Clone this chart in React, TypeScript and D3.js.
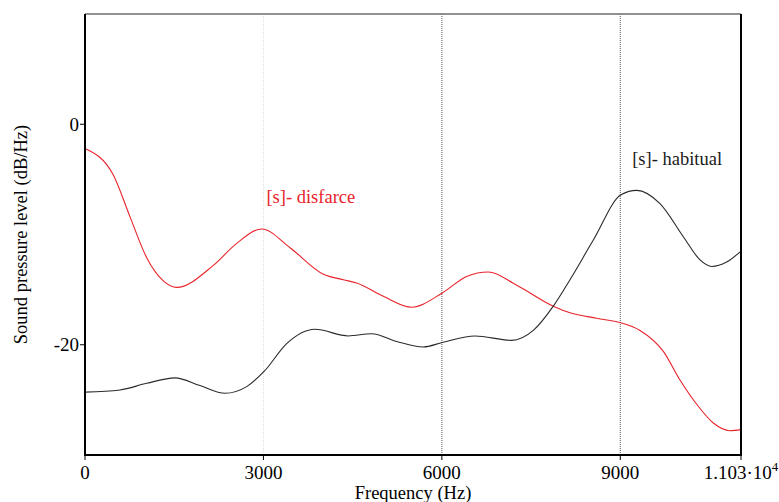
import React from 'react';
import * as d3 from 'd3';

// espectro [s] disfarce (vermelho)
const disfarceFreq = [0, 476, 757, 1037, 1317, 1541, 2158, 2550, 2971, 3447, 4008, 4343, 4568, 5016, 5493, 6008, 6418, 6782, 7259, 7874, 8155, 8603, 9007, 9332, 9724, 10004, 10285, 10565, 10845, 11030];
const disfarceDb = [-2.2, -4.6, -8.4, -12.1, -14.2, -14.8, -12.8, -10.8, -9.5, -11.2, -13.6, -14.1, -14.4, -15.6, -16.6, -15.3, -13.8, -13.4, -14.6, -16.5, -17.1, -17.6, -18.0, -18.7, -20.6, -23.2, -25.4, -27.1, -27.8, -27.7];

// espectro [s] habitual (preto)
const habitualFreq = [0, 588, 1037, 1513, 1934, 2354, 2718, 3015, 3391, 3867, 4428, 4820, 5240, 5689, 6008, 6557, 7174, 7538, 7874, 8155, 8547, 9012, 9276, 9668, 10060, 10341, 10537, 10789, 11030];
const habitualDb = [-24.3, -24.1, -23.5, -23.0, -23.7, -24.4, -23.8, -22.4, -19.9, -18.6, -19.2, -19.0, -19.7, -20.2, -19.8, -19.2, -19.6, -18.7, -16.5, -14.1, -10.5, -6.4, -6.0, -7.2, -10.2, -12.3, -12.9, -12.5, -11.5];

const xTicks = [0, 3000, 6000, 9000];
const yTicks = [0, -20];
const gridLines = [3000, 6000, 9000];

const W = 779;
const H = 502;
const margin = { top: 14, right: 38, bottom: 47, left: 85 };
const font = '"Liberation Serif", "Times New Roman", serif';

export default function App() {
  const x = d3.scaleLinear().domain([0, 11030]).range([margin.left, W - margin.right]);
  const y = d3.scaleLinear().domain([-30, 10]).range([H - margin.bottom, margin.top]);

  const line = d3.line<[number, number]>()
    .x(d => x(d[0]))
    .y(d => y(d[1]))
    .curve(d3.curveMonotoneX);

  const disfarce = line(disfarceFreq.map((f, i) => [f, disfarceDb[i]] as [number, number])) || '';
  const habitual = line(habitualFreq.map((f, i) => [f, habitualDb[i]] as [number, number])) || '';

  const x0 = x(0), x1 = x(11030), yTop = y(10), yBot = y(-30);

  return (
    <svg width={W} height={H} style={{ position: 'absolute', left: 0, top: 0, background: '#fff' }} fontFamily={font}>
      {/* linhas de grade */}
      {gridLines.map(g => (
        <line key={g} x1={x(g)} x2={x(g)} y1={yTop} y2={yBot}
          stroke={g === 3000 ? '#dcdcdc' : '#555'} strokeWidth={1} strokeDasharray="1,1" />
      ))}

      {/* curvas */}
      <path d={disfarce} fill="none" stroke="#e8232a" strokeWidth={1.1} />
      <path d={habitual} fill="none" stroke="#2a2a2a" strokeWidth={1.1} />

      {/* moldura */}
      <line x1={x0} x2={x1} y1={yTop} y2={yTop} stroke="#6e6e6e" strokeWidth={1.5} />
      <line x1={x1} x2={x1} y1={yTop} y2={yBot} stroke="#000" strokeWidth={2} />
      <line x1={x0} x2={x0} y1={yTop} y2={yBot + 1} stroke="#000" strokeWidth={2} />
      <line x1={x0 - 1} x2={x1 + 1} y1={yBot} y2={yBot} stroke="#000" strokeWidth={2} />

      {/* eixo x */}
      {[...xTicks, 11030].map(t => (
        <line key={'xt' + t} x1={x(t)} x2={x(t)} y1={yBot} y2={yBot + 5} stroke="#000" strokeWidth={1} />
      ))}
      {xTicks.map(t => (
        <text key={'xl' + t} x={x(t)} y={479} textAnchor="middle" fontSize={19}>{t}</text>
      ))}
      <text x={x(11030)} y={479} textAnchor="middle" fontSize={19}>
        1.103·10<tspan dy={-8} fontSize={13}>4</tspan>
      </text>
      <text x={(x0 + x1) / 2} y={499} textAnchor="middle" fontSize={18.5}>Frequency (Hz)</text>

      {/* eixo y */}
      {yTicks.map(t => (
        <g key={'yt' + t}>
          <line x1={x0 - 5} x2={x0} y1={y(t)} y2={y(t)} stroke="#000" strokeWidth={1} />
          <text x={x0 - 6} y={y(t) + 6.5} textAnchor="end" fontSize={19}>{t}</text>
        </g>
      ))}
      <text transform={`translate(27, ${(yTop + yBot) / 2}) rotate(-90)`} textAnchor="middle" fontSize={18.5}>
        Sound pressure level (dB/Hz)
      </text>

      {/* rótulos */}
      <text x={x(3050)} y={203} fontSize={18.5} fill="#e8232a">[s]- disfarce</text>
      <text x={x(9200)} y={165} fontSize={18.5} fill="#1a1a1a">[s]- habitual</text>
    </svg>
  );
}
